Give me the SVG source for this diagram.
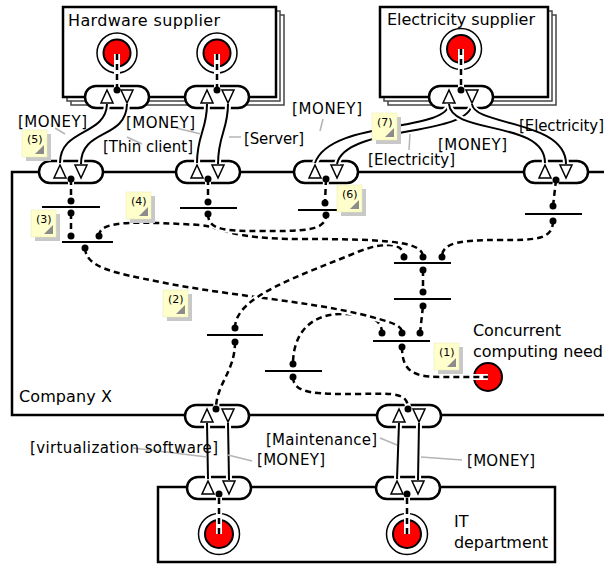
<svg xmlns="http://www.w3.org/2000/svg" width="604" height="565" viewBox="0 0 604 565">
<style>
.actor{fill:#fff;stroke:#000;stroke-width:2.5}
.seg{fill:#fff;stroke:#444;stroke-width:1.5}
.vi{fill:#fff;stroke:#000;stroke-width:2.5}
.port{fill:#fff;stroke:#000;stroke-width:1.5}
.halo{fill:none;stroke:#fff;stroke-width:6}
.ve{fill:none;stroke:#000;stroke-width:2}
.dhalo{fill:none;stroke:#fff;stroke-width:6}
.dep{fill:none;stroke:#000;stroke-width:2.5;stroke-dasharray:6 4}
.dot{fill:#000}
.bar{stroke:#000;stroke-width:2}
.lead{stroke:#b4b4b4;stroke-width:1.5}
.ring{fill:#fff;stroke:#000;stroke-width:1.5}
.red{fill:#f00;stroke:#000;stroke-width:2}
text{font-family:"DejaVu Sans",Verdana,sans-serif;fill:#000}
.big{font-size:16px}
.lbl{font-size:15px}
.nt{font-size:11px}
.note{fill:#ffffcc;stroke:#e6e6b4;stroke-width:0.5}
.nsh{fill:#c8c8c8}
.fold{fill:#8c8c8c}
</style>

<!-- Actors -->
<g id="hardware-supplier">
<rect class="seg" x="71" y="15" width="213" height="90"/>
<rect class="seg" x="67" y="11" width="213" height="90"/>
<rect class="actor" x="63" y="7" width="213" height="90"/>
<text class="big" x="68" y="26" textLength="152">Hardware supplier</text>
<circle class="ring" cx="117" cy="53" r="20"/>
<circle class="red" cx="117" cy="53" r="13.5"/>
<circle class="ring" cx="217" cy="53" r="20"/>
<circle class="red" cx="217" cy="53" r="13.5"/>
</g>
<g id="electricity-supplier">
<rect class="seg" x="388" y="15" width="168" height="90"/>
<rect class="seg" x="384" y="11" width="168" height="90"/>
<rect class="actor" x="380" y="7" width="168" height="90"/>
<text class="big" x="387" y="25" textLength="148">Electricity supplier</text>
<circle class="ring" cx="461" cy="49" r="20.5"/>
<circle class="red" cx="461" cy="49" r="14"/>
</g>
<g id="company-x">
<path class="actor" d="M620,172 H12 V415 H620"/>
<text class="big" x="19" y="402" textLength="93">Company X</text>
<circle class="red" cx="488" cy="377" r="14"/>
<text class="big" x="473" y="336" textLength="88">Concurrent</text>
<text class="big" x="473" y="357" textLength="130">computing need</text>
</g>
<g id="it-department">
<rect class="actor" x="158" y="487" width="397" height="75"/>
<text class="big" x="454" y="527">IT</text>
<text class="big" x="454" y="548" textLength="94">department</text>
<circle class="ring" cx="219" cy="534" r="20.5"/>
<circle class="red" cx="219" cy="534" r="14"/>
<circle class="ring" cx="407" cy="534" r="20.5"/>
<circle class="red" cx="407" cy="534" r="14"/>
</g>

<!-- Value interfaces -->
<g id="vi-hs1"><rect class="vi" x="85" y="86" width="64" height="22" rx="11"/>
<polygon class="port" points="101,103 113,103 107,90"/><polygon class="port" points="121,90 133,90 127,103"/></g>
<g id="vi-hs2"><rect class="vi" x="185" y="86" width="64" height="22" rx="11"/>
<polygon class="port" points="201,103 213,103 207,90"/><polygon class="port" points="222,90 234,90 228,103"/></g>
<g id="vi-es"><rect class="vi" x="429" y="86" width="64" height="22" rx="11"/>
<polygon class="port" points="443,103 455,103 449,90"/><polygon class="port" points="466,90 478,90 472,103"/></g>
<g id="vi-cx1"><rect class="vi" x="39" y="161" width="64" height="22" rx="11"/>
<polygon class="port" points="54,178 66,178 60,165"/><polygon class="port" points="75,165 87,165 81,178"/></g>
<g id="vi-cx2"><rect class="vi" x="176" y="161" width="64" height="22" rx="11"/>
<polygon class="port" points="191,178 203,178 197,165"/><polygon class="port" points="212,165 224,165 218,178"/></g>
<g id="vi-cx3"><rect class="vi" x="294" y="161" width="64" height="22" rx="11"/>
<polygon class="port" points="309,178 321,178 315,165"/><polygon class="port" points="331,165 343,165 337,178"/></g>
<g id="vi-cx4"><rect class="vi" x="524" y="161" width="64" height="22" rx="11"/>
<polygon class="port" points="539,178 551,178 545,165"/><polygon class="port" points="560,165 572,165 566,178"/></g>
<g id="vi-cx5"><rect class="vi" x="185" y="405" width="64" height="22" rx="11"/>
<polygon class="port" points="201,422 213,422 207,409"/><polygon class="port" points="222,409 234,409 228,422"/></g>
<g id="vi-cx6"><rect class="vi" x="377" y="405" width="64" height="22" rx="11"/>
<polygon class="port" points="393,422 405,422 399,409"/><polygon class="port" points="413,409 425,409 419,422"/></g>
<g id="vi-it1"><rect class="vi" x="187" y="477" width="64" height="22" rx="11"/>
<polygon class="port" points="202,494 214,494 208,481"/><polygon class="port" points="223,481 235,481 229,494"/></g>
<g id="vi-it2"><rect class="vi" x="376" y="477" width="64" height="22" rx="11"/>
<polygon class="port" points="391,494 403,494 397,481"/><polygon class="port" points="412,481 424,481 418,494"/></g>

<!-- AND elements -->
<g id="and-a"><line class="bar" x1="42" y1="207" x2="100" y2="207"/></g>
<g id="and-b"><line class="bar" x1="62" y1="242" x2="113" y2="242"/></g>
<g id="and-c"><line class="bar" x1="180" y1="208" x2="237" y2="208"/></g>
<g id="and-d"><line class="bar" x1="298" y1="210" x2="354" y2="210"/></g>
<g id="and-e"><line class="bar" x1="525" y1="214" x2="582" y2="214"/></g>
<g id="and-f"><line class="bar" x1="394" y1="263" x2="451" y2="263"/></g>
<g id="and-g"><line class="bar" x1="394" y1="299" x2="451" y2="299"/></g>
<g id="and-h"><line class="bar" x1="373" y1="341" x2="430" y2="341"/></g>
<g id="and-i"><line class="bar" x1="207" y1="335" x2="263" y2="335"/></g>
<g id="and-j"><line class="bar" x1="265" y1="371" x2="322" y2="371"/></g>

<!-- Connectors -->
<g id="connectors">
<g id="value-exchanges">
<path class="halo" d="M107,104 C106,136 60,128 60,163"/><path class="ve" d="M107,104 C106,136 60,128 60,163"/>
<path class="halo" d="M127,104 C126,140 81,128 81,164"/><path class="ve" d="M127,104 C126,140 81,128 81,164"/>
<path class="halo" d="M207,104 C207,130 197,135 197,163"/><path class="ve" d="M207,104 C207,130 197,135 197,163"/>
<path class="halo" d="M228,104 C228,130 218,135 218,164"/><path class="ve" d="M228,104 C228,130 218,135 218,164"/>
<path class="halo" d="M449,104 C447,132 330,120 315,163"/><path class="ve" d="M449,104 C447,132 330,120 315,163"/>
<path class="halo" d="M472,104 C469,137 345,125 337,164"/><path class="ve" d="M472,104 C469,137 345,125 337,164"/>
<path class="halo" d="M449,104 C451,135 545,120 545,163"/><path class="ve" d="M449,104 C451,135 545,120 545,163"/>
<path class="halo" d="M472,104 C474,126 566,120 566,164"/><path class="ve" d="M472,104 C474,126 566,120 566,164"/>
<path class="halo" d="M207,423 L208,479"/><path class="ve" d="M207,423 L208,479"/>
<path class="halo" d="M228,423 L229,480"/><path class="ve" d="M228,423 L229,480"/>
<path class="halo" d="M399,423 L397,479"/><path class="ve" d="M399,423 L397,479"/>
<path class="halo" d="M419,423 L418,480"/><path class="ve" d="M419,423 L418,480"/>
</g>
<g id="value-labels">
<line class="lead" x1="55" y1="128" x2="65" y2="134"/>
<line class="lead" x1="176" y1="128" x2="201" y2="134"/>
<line class="lead" x1="127" y1="137" x2="142" y2="144"/>
<line class="lead" x1="229" y1="137" x2="241" y2="137"/>
<line class="lead" x1="323" y1="119" x2="320" y2="131"/>
<line class="lead" x1="410" y1="134" x2="409" y2="150"/>
<line class="lead" x1="133" y1="448" x2="207" y2="457"/>
<line class="lead" x1="228" y1="455" x2="252" y2="461"/>
<line class="lead" x1="380" y1="438" x2="397" y2="445"/>
<line class="lead" x1="421" y1="457" x2="462" y2="460"/>
<text class="lbl" x="18" y="127" textLength="69">[MONEY]</text>
<text class="lbl" x="126" y="128" textLength="69">[MONEY]</text>
<text class="lbl" x="103" y="152" textLength="90">[Thin client]</text>
<text class="lbl" x="244" y="144" textLength="60">[Server]</text>
<text class="lbl" x="292" y="114" textLength="70">[MONEY]</text>
<text class="lbl" x="368" y="165" textLength="87">[Electricity]</text>
<text class="lbl" x="438" y="150" textLength="69">[MONEY]</text>
<text class="lbl" x="519" y="131" textLength="85">[Electricity]</text>
<text class="lbl" x="30" y="453" textLength="188">[virtualization software]</text>
<text class="lbl" x="257" y="465" textLength="68">[MONEY]</text>
<text class="lbl" x="266" y="445" textLength="111">[Maintenance]</text>
<text class="lbl" x="467" y="466" textLength="68">[MONEY]</text>
</g>
<g id="dependency-paths">
<path class="dhalo" d="M117,54 V90"/><path class="dep" d="M117,54 V90"/>
<path class="dhalo" d="M217,54 V90"/><path class="dep" d="M217,54 V90"/>
<path class="dhalo" d="M461,49 V90"/><path class="dep" d="M461,49 V90"/>
<path class="dhalo" d="M219,534 V494"/><path class="dep" d="M219,534 V494"/>
<path class="dhalo" d="M407,534 V494"/><path class="dep" d="M407,534 V494"/>
<path class="dhalo" d="M71,179 V201"/><path class="dep" d="M71,179 V201"/>
<path class="dhalo" d="M71,213 V236"/><path class="dep" d="M71,213 V236"/>
<path class="dhalo" d="M208,179 V202"/><path class="dep" d="M208,179 V202"/>
<path class="dhalo" d="M326,179 L325,203"/><path class="dep" d="M326,179 L325,203"/>
<path class="dhalo" d="M556,180 L553,206"/><path class="dep" d="M556,180 L553,206"/>
<path class="dhalo" d="M553,221 C553,240 535,240 500,240 C462,240 442,242 442,257"/><path class="dep" d="M553,221 C553,240 535,240 500,240 C462,240 442,242 442,257"/>
<path class="dhalo" d="M423,270 V292"/><path class="dep" d="M423,270 V292"/>
<path class="dhalo" d="M420,333 L423,306"/><path class="dep" d="M420,333 L423,306"/>
<path class="dhalo" d="M402,347 C402,370 412,377 440,377 L488,377"/><path class="dep" d="M402,347 C402,370 412,377 440,377 L488,377"/>
<path class="dhalo" d="M382,333 C382,316 362,314 342,314 C308,314 293,336 293,364"/><path class="dep" d="M382,333 C382,316 362,314 342,314 C308,314 293,336 293,364"/>
<path class="dhalo" d="M85,248 C86,268 115,273 160,282 C230,296 300,300 360,314 C392,322 402,325 402,333"/><path class="dep" d="M85,248 C86,268 115,273 160,282 C230,296 300,300 360,314 C392,322 402,325 402,333"/>
<path class="dhalo" d="M235,328 C235,296 300,276 360,251 C390,240 404,245 404,257"/><path class="dep" d="M235,328 C235,296 300,276 360,251 C390,240 404,245 404,257"/>
<path class="dhalo" d="M235,342 C235,372 216,384 216,409"/><path class="dep" d="M235,342 C235,372 216,384 216,409"/>
<path class="dhalo" d="M293,377 C293,395 320,394 360,394 C396,393 408,393 408,409"/><path class="dep" d="M293,377 C293,395 320,394 360,394 C396,393 408,393 408,409"/>
<path class="dhalo" d="M99,236 C99,221 130,221 200,225 C222,227 228,239 300,239 C392,239 423,242 423,257"/><path class="dep" d="M99,236 C99,221 130,221 200,225 C222,227 228,239 300,239 C392,239 423,242 423,257"/>
<path class="dhalo" d="M208,214 C208,230 225,231 260,231 C300,231 326,232 326,215"/><path class="dep" d="M208,214 C208,230 225,231 260,231 C300,231 326,232 326,215"/>
</g>
<g id="dependency-dots">
<circle class="dot" cx="117" cy="90" r="3.5"/><circle class="dot" cx="217" cy="90" r="3.5"/><circle class="dot" cx="461" cy="90" r="3.5"/>
<circle class="dot" cx="71" cy="179" r="3.5"/><circle class="dot" cx="208" cy="179" r="3.5"/><circle class="dot" cx="326" cy="179" r="3.5"/><circle class="dot" cx="556" cy="180" r="3.5"/>
<circle class="dot" cx="216" cy="409" r="3.5"/><circle class="dot" cx="408" cy="409" r="3.5"/><circle class="dot" cx="219" cy="494" r="3.5"/><circle class="dot" cx="407" cy="494" r="3.5"/>
<circle class="dot" cx="71" cy="201" r="3.5"/><circle class="dot" cx="71" cy="213" r="3.5"/>
<circle class="dot" cx="71" cy="236" r="3.5"/><circle class="dot" cx="99" cy="236" r="3.5"/><circle class="dot" cx="85" cy="248" r="3.5"/>
<circle class="dot" cx="208" cy="202" r="3.5"/><circle class="dot" cx="208" cy="214" r="3.5"/>
<circle class="dot" cx="325" cy="203" r="3.5"/><circle class="dot" cx="326" cy="215" r="3.5"/>
<circle class="dot" cx="553" cy="206" r="3.5"/><circle class="dot" cx="553" cy="221" r="3.5"/>
<circle class="dot" cx="404" cy="257" r="3.5"/><circle class="dot" cx="423" cy="257" r="3.5"/><circle class="dot" cx="442" cy="257" r="3.5"/><circle class="dot" cx="423" cy="270" r="3.5"/>
<circle class="dot" cx="423" cy="292" r="3.5"/><circle class="dot" cx="423" cy="306" r="3.5"/>
<circle class="dot" cx="382" cy="333" r="3.5"/><circle class="dot" cx="402" cy="333" r="3.5"/><circle class="dot" cx="420" cy="333" r="3.5"/><circle class="dot" cx="402" cy="347" r="3.5"/>
<circle class="dot" cx="235" cy="328" r="3.5"/><circle class="dot" cx="235" cy="342" r="3.5"/>
<circle class="dot" cx="293" cy="364" r="3.5"/><circle class="dot" cx="293" cy="377" r="3.5"/>
</g>
</g>

<!-- Notes -->
<g id="note-5"><rect class="nsh" x="26" y="134" width="25" height="27"/><rect class="note" x="22" y="130" width="25" height="27"/><polygon class="fold" points="44,145 44,154 35,154"/><text class="nt" x="27" y="143">(5)</text></g>
<g id="note-4"><rect class="nsh" x="130" y="196" width="25" height="27"/><rect class="note" x="126" y="192" width="25" height="27"/><polygon class="fold" points="148,207 148,216 139,216"/><text class="nt" x="131" y="205">(4)</text></g>
<g id="note-3"><rect class="nsh" x="35" y="214" width="25" height="27"/><rect class="note" x="31" y="210" width="25" height="27"/><polygon class="fold" points="53,225 53,234 44,234"/><text class="nt" x="36" y="223">(3)</text></g>
<g id="note-2"><rect class="nsh" x="167" y="294" width="25" height="27"/><rect class="note" x="163" y="290" width="25" height="27"/><polygon class="fold" points="185,305 185,314 176,314"/><text class="nt" x="168" y="303">(2)</text></g>
<g id="note-6"><rect class="nsh" x="341" y="189" width="25" height="27"/><rect class="note" x="337" y="185" width="25" height="27"/><polygon class="fold" points="359,200 359,209 350,209"/><text class="nt" x="342" y="198">(6)</text></g>
<g id="note-7"><rect class="nsh" x="376" y="117" width="25" height="27"/><rect class="note" x="372" y="113" width="25" height="27"/><polygon class="fold" points="394,128 394,137 385,137"/><text class="nt" x="377" y="126">(7)</text></g>
<g id="note-1"><rect class="nsh" x="438" y="347" width="25" height="27"/><rect class="note" x="434" y="343" width="25" height="27"/><polygon class="fold" points="456,358 456,367 447,367"/><text class="nt" x="439" y="356">(1)</text></g>
</svg>
